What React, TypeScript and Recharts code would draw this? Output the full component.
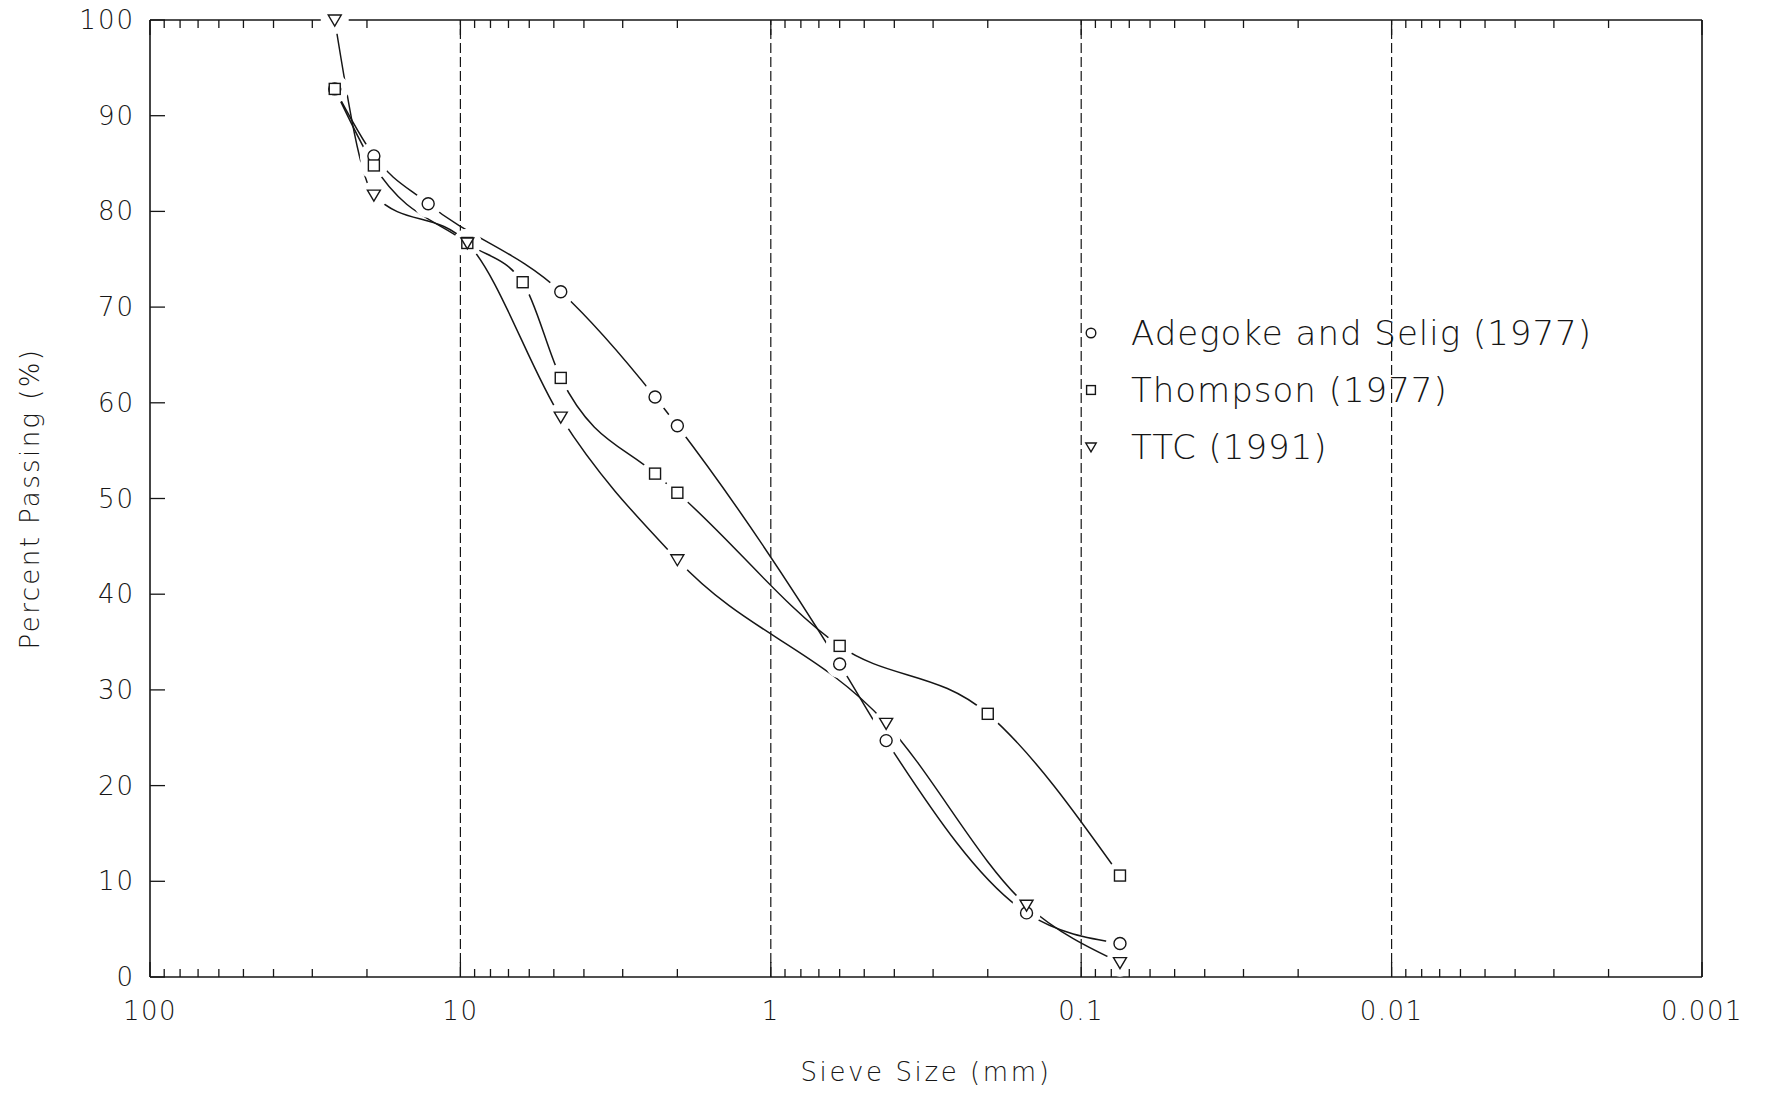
import React from 'react';
import { ComposedChart, Line, XAxis, YAxis, ReferenceLine, Legend } from 'recharts';

const INK = '#161616';
const FONT = '"DejaVu Sans", "Liberation Sans", sans-serif';

// x axis (sieve size, mm) — log scale, coarse on the left
const majorSizes = [100, 10, 1, 0.1, 0.01, 0.001];
const majorLabels = ['100', '10', '1', '0.1', '0.01', '0.001'];
const minorSizes = [
  90, 80, 70, 60, 50, 40, 30, 20,
  9, 8, 7, 6, 5, 4, 3, 2,
  0.9, 0.8, 0.7, 0.6, 0.5, 0.4, 0.3, 0.2,
  0.09, 0.08, 0.07, 0.06, 0.05, 0.04, 0.03, 0.02,
  0.009, 0.008, 0.007, 0.006, 0.005, 0.004, 0.003, 0.002,
];
const gridSizes = [10, 1, 0.1, 0.01];
const percentTicks = [0, 10, 20, 30, 40, 50, 60, 70, 80, 90, 100];

const seriesNames = ['Adegoke and Selig (1977)', 'Thompson (1977)', 'TTC (1991)'];

const adegokeSize = [25.4, 19, 12.7, 4.75, 2.36, 2.0, 0.6, 0.425, 0.15, 0.075];
const adegokePass = [92.8, 85.8, 80.8, 71.6, 60.6, 57.6, 32.7, 24.7, 6.7, 3.5];

const thompsonSize = [25.4, 19, 9.5, 6.3, 4.75, 2.36, 2.0, 0.6, 0.2, 0.075];
const thompsonPass = [92.8, 84.8, 76.7, 72.6, 62.6, 52.6, 50.6, 34.6, 27.5, 10.6];

const ttcSize = [25.4, 19, 9.5, 4.75, 2.0, 0.425, 0.15, 0.075];
const ttcPass = [100, 81.7, 76.7, 58.5, 43.6, 26.5, 7.5, 1.5];

const toRows = (sizes: number[], pass: number[]) => sizes.map((s, i) => ({ size: s, pass: pass[i] }));

const series = [
  { name: seriesNames[0], shape: 'circle', data: toRows(adegokeSize, adegokePass) },
  { name: seriesNames[1], shape: 'square', data: toRows(thompsonSize, thompsonPass) },
  { name: seriesNames[2], shape: 'triangle', data: toRows(ttcSize, ttcPass) },
];

const allXTicks = [...majorSizes, ...minorSizes];

function Marker({ shape, cx, cy, s = 1 }: { shape: string; cx: number; cy: number; s?: number }) {
  const common = { fill: '#fff', stroke: INK, strokeWidth: 1.4 };
  if (shape === 'circle') return <circle cx={cx} cy={cy} r={6 * s} {...common} />;
  if (shape === 'square') {
    const h = 5.5 * s;
    return <rect x={cx - h} y={cy - h} width={2 * h} height={2 * h} {...common} />;
  }
  const w = 6.5 * s;
  return (
    <polygon
      points={`${cx - w},${cy - 5 * s} ${cx + w},${cy - 5 * s} ${cx},${cy + 6 * s}`}
      {...common}
    />
  );
}

const textProps = { fill: INK, fontFamily: FONT, fontWeight: 300 };

function BottomTick(props: any) {
  const { x, y, payload } = props;
  const idx = majorSizes.indexOf(payload.value);
  const major = idx >= 0;
  return (
    <g>
      <line x1={x} x2={x} y1={y} y2={y - (major ? 15 : 8)} stroke={INK} strokeWidth={1.3} />
      {major && (
        <text x={x} y={y + 34} textAnchor="middle" dominantBaseline="central" fontSize={26} letterSpacing={1.5} {...textProps}>
          {majorLabels[idx]}
        </text>
      )}
    </g>
  );
}

function TopTick(props: any) {
  const { x, y, payload } = props;
  const major = majorSizes.indexOf(payload.value) >= 0;
  return <line x1={x} x2={x} y1={y} y2={y + (major ? 15 : 8)} stroke={INK} strokeWidth={1.3} />;
}

function LeftTick(props: any) {
  const { x, y, payload } = props;
  return (
    <g>
      <line x1={x} x2={x + 15} y1={y} y2={y} stroke={INK} strokeWidth={1.3} />
      <text x={x - 15} y={y} textAnchor="end" dominantBaseline="central" fontSize={26} letterSpacing={2} {...textProps}>
        {payload.value}
      </text>
    </g>
  );
}

function RightTick(props: any) {
  const { x, y } = props;
  return <line x1={x} x2={x - 15} y1={y} y2={y} stroke={INK} strokeWidth={1.3} />;
}

const renderLegend = () => (
  <div style={{ fontFamily: FONT, fontSize: 34, color: INK, letterSpacing: 1, fontWeight: 300 }}>
    {series.map((s) => (
      <div key={s.name} style={{ display: 'flex', alignItems: 'center', height: 57, whiteSpace: 'nowrap' }}>
        <svg width={24} height={24} style={{ marginRight: 28 }}>
          <Marker shape={s.shape} cx={12} cy={12} s={0.8} />
        </svg>
        <span>{s.name}</span>
      </div>
    ))}
  </div>
);

export default function App() {
  return (
    <div style={{ position: 'absolute', left: 0, top: 0, width: 1765, height: 1093, background: '#fff' }}>
      <ComposedChart width={1765} height={1093} margin={{ top: 19, right: 62, bottom: 0, left: 0 }}>
        <XAxis
          xAxisId="b"
          dataKey="size"
          type="number"
          scale="log"
          domain={[0.001, 100]}
          reversed
          allowDataOverflow
          ticks={allXTicks}
          interval={0}
          tick={<BottomTick />}
          tickLine={false}
          tickSize={0}
          tickMargin={0}
          height={116}
          axisLine={{ stroke: INK, strokeWidth: 1.6 }}
          label={(p: any) => {
            const vb = p.viewBox || {};
            return (
              <text x={vb.x + vb.width / 2} y={vb.y + 95} textAnchor="middle" dominantBaseline="central" fontSize={26} letterSpacing={2.6} {...textProps}>
                Sieve Size (mm)
              </text>
            );
          }}
        />
        <XAxis
          xAxisId="t"
          orientation="top"
          dataKey="size"
          type="number"
          scale="log"
          domain={[0.001, 100]}
          reversed
          allowDataOverflow
          ticks={allXTicks}
          interval={0}
          tick={<TopTick />}
          tickLine={false}
          tickSize={0}
          tickMargin={0}
          height={1}
          axisLine={{ stroke: INK, strokeWidth: 1.6 }}
        />
        <YAxis
          yAxisId="l"
          type="number"
          domain={[0, 100]}
          ticks={percentTicks}
          interval={0}
          tick={<LeftTick />}
          tickLine={false}
          tickSize={0}
          tickMargin={0}
          width={150}
          axisLine={{ stroke: INK, strokeWidth: 1.6 }}
          label={(p: any) => {
            const vb = p.viewBox || {};
            const cx = 30;
            const cy = vb.y + vb.height / 2;
            return (
              <text x={cx} y={cy} transform={`rotate(-90 ${cx} ${cy})`} textAnchor="middle" dominantBaseline="central" fontSize={26} letterSpacing={2.4} {...textProps}>
                Percent Passing (%)
              </text>
            );
          }}
        />
        <YAxis
          yAxisId="r"
          orientation="right"
          type="number"
          domain={[0, 100]}
          ticks={percentTicks}
          interval={0}
          tick={<RightTick />}
          tickLine={false}
          tickSize={0}
          tickMargin={0}
          width={1}
          axisLine={{ stroke: INK, strokeWidth: 1.6 }}
        />

        {gridSizes.map((g) => (
          <ReferenceLine key={g} x={g} xAxisId="b" yAxisId="l" stroke={INK} strokeWidth={1.2} strokeDasharray="10 4" />
        ))}

        {series.map((s) => (
          <Line
            key={'curve-' + s.name}
            data={s.data}
            xAxisId="b"
            yAxisId="l"
            dataKey="pass"
            type="monotone"
            stroke={INK}
            strokeWidth={1.5}
            dot={false}
            activeDot={false}
            isAnimationActive={false}
          />
        ))}

        {series.map((s) => (
          <Line
            key={'knock-' + s.name}
            data={s.data}
            xAxisId="b"
            yAxisId="l"
            dataKey="pass"
            stroke="none"
            activeDot={false}
            isAnimationActive={false}
            dot={(p: any) => <circle key={'k' + p.index} cx={p.cx} cy={p.cy} r={14} fill="#fff" stroke="none" />}
          />
        ))}

        {series.map((s) => (
          <Line
            key={'mark-' + s.name}
            data={s.data}
            xAxisId="b"
            yAxisId="l"
            dataKey="pass"
            stroke="none"
            activeDot={false}
            isAnimationActive={false}
            dot={(p: any) => <Marker key={'m' + p.index} shape={s.shape} cx={p.cx} cy={p.cy} />}
          />
        ))}

        <Legend
          content={renderLegend}
          layout="vertical"
          align="center"
          verticalAlign="middle"
          wrapperStyle={{ left: 1079, top: 304, width: 560 }}
        />
      </ComposedChart>
    </div>
  );
}
